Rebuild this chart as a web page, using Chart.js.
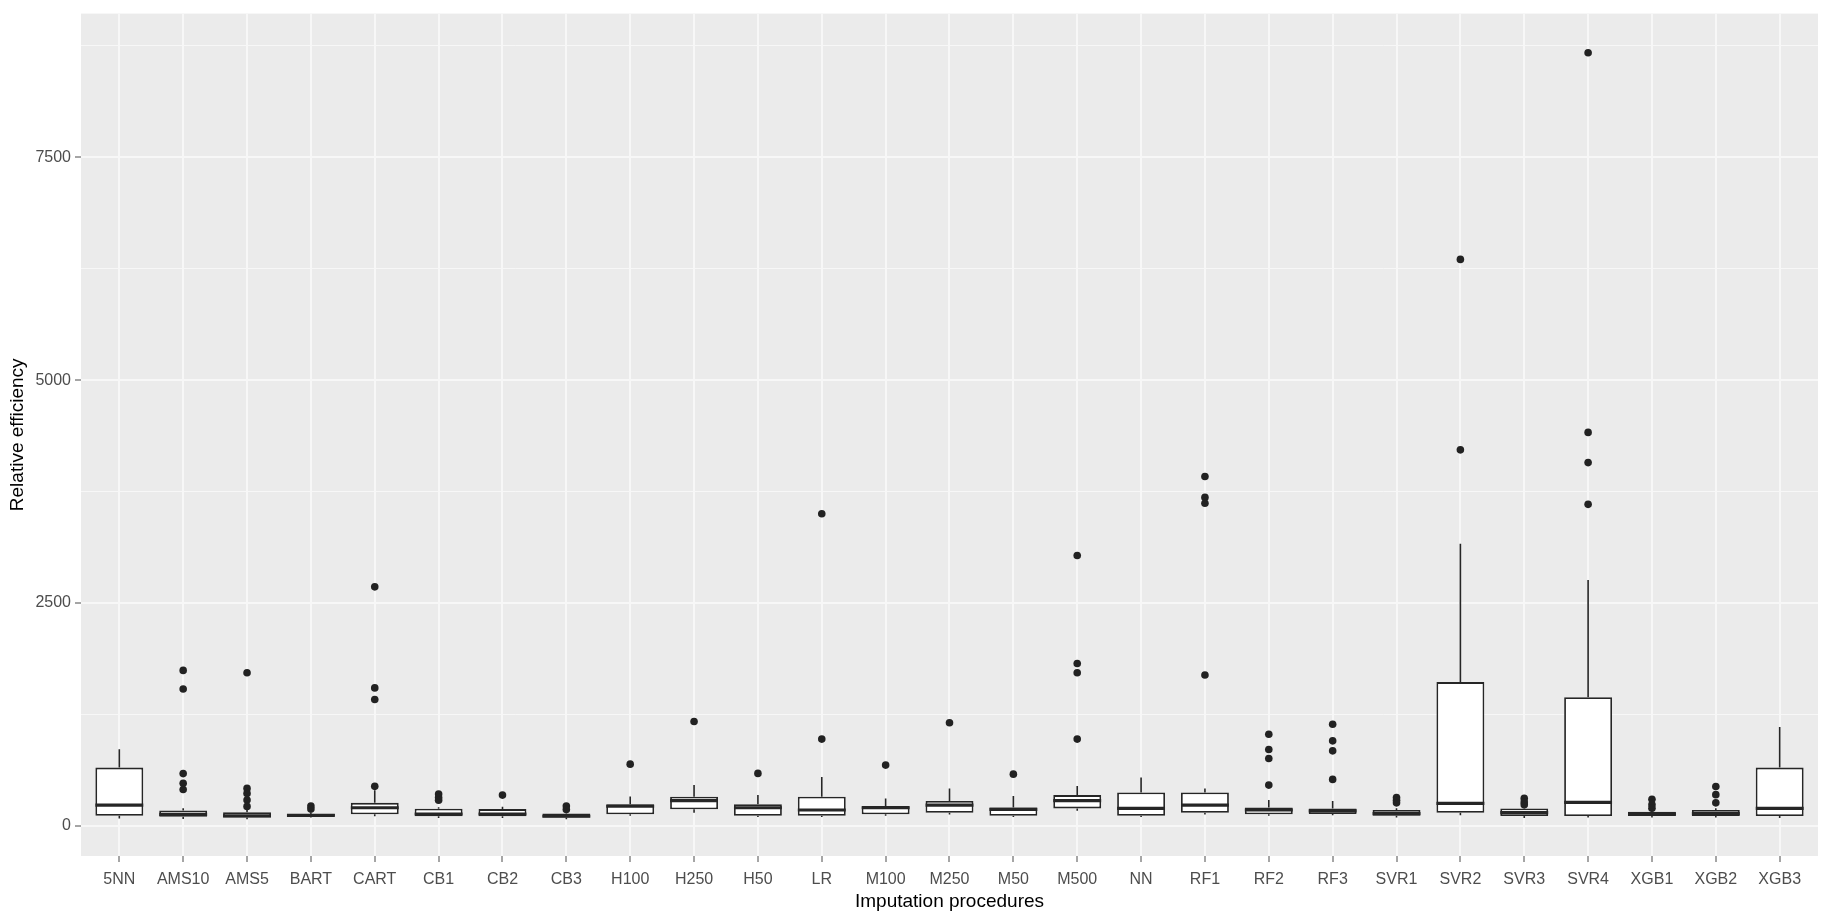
<!DOCTYPE html>
<html>
<head>
<meta charset="utf-8">
<script src="https://cdn.jsdelivr.net/npm/chart.js@4.4.1/dist/chart.umd.min.js"></script>
<style>
  html, body { margin: 0; padding: 0; background: #fff; }
  canvas { display: block; }
</style>
</head>
<body>
<canvas id="chartBox" width="1824" height="921"></canvas>
<script>
// categorias del eje x
const categories = ['5NN', 'AMS10', 'AMS5', 'BART', 'CART', 'CB1', 'CB2', 'CB3', 'H100', 'H250', 'H50', 'LR',
    'M100', 'M250', 'M50', 'M500', 'NN', 'RF1', 'RF2', 'RF3', 'SVR1', 'SVR2', 'SVR3', 'SVR4', 'XGB1', 'XGB2', 'XGB3'];

// estadisticos de cada caja
const whiskerLow  = [85, 80, 75, 95, 110, 90, 90, 75, 115, 150, 100, 100, 115, 130, 100, 170, 100, 130, 115, 120, 95, 120, 90, 95, 95, 95, 90];
const q1          = [115, 105, 97, 110, 131, 110, 110, 97, 131, 187, 115, 115, 131, 149, 115, 198, 115, 149, 131, 134, 115, 149, 112, 112, 112, 112, 112];
const median      = [235, 130, 115, 120, 205, 135, 135, 110, 222, 284, 205, 180, 205, 235, 187, 284, 198, 235, 180, 171, 140, 254, 150, 265, 135, 140, 198];
const q3          = [655, 175, 155, 135, 260, 195, 190, 140, 243, 328, 243, 328, 224, 280, 209, 347, 377, 377, 209, 198, 179, 1614, 198, 1445, 160, 179, 655];
const whiskerHigh = [860, 200, 180, 150, 400, 210, 215, 150, 330, 460, 347, 550, 310, 420, 336, 448, 545, 422, 291, 280, 200, 3164, 215, 2760, 175, 200, 1110];

// valores atipicos por categoria
const outliers = [
    [], [1745, 1536, 588, 480, 410], [1719, 422, 366, 291, 220], [224, 190], [2682, 1549, 1419, 445],
    [360, 320, 290], [347], [224, 185], [694], [1172], [590], [3502, 975], [683], [1159], [582],
    [3034, 1823, 1719, 975], [], [3919, 3685, 3620, 1693], [1030, 859, 758, 459], [1142, 955, 843, 523],
    [320, 290, 260], [6354, 4218], [310, 270, 240], [8671, 4414, 4075, 3607], [300, 240, 200], [443, 352, 260], []
];

// marcas del eje y
const yTicks = [0, 2500, 5000, 7500];
const yMinorTicks = [1250, 3750, 6250, 8750];

const axisFont = { family: '"Liberation Sans", Arial, sans-serif', size: 16 };
const titleFont = { family: '"Liberation Sans", Arial, sans-serif', size: 19 };

// fondo gris del panel, bigotes y medianas
const boxExtras = {
    id: 'boxExtras',
    beforeDraw(chart) {
        const { ctx, chartArea: a } = chart;
        ctx.save();
        ctx.fillStyle = '#EBEBEB';
        ctx.fillRect(a.left, a.top, a.right - a.left, a.bottom - a.top);
        ctx.restore();
    },
    afterDatasetDraw(chart, args) {
        if (args.index !== 0) return;
        const { ctx } = chart;
        const y = chart.scales.y;
        const meta = chart.getDatasetMeta(0);
        ctx.save();
        ctx.strokeStyle = '#262626';
        meta.data.forEach((bar, i) => {
            const cx = bar.x;
            const half = bar.width / 2;
            // bigotes
            ctx.lineWidth = 1.6;
            ctx.beginPath();
            ctx.moveTo(cx, y.getPixelForValue(q3[i]));
            ctx.lineTo(cx, y.getPixelForValue(whiskerHigh[i]));
            ctx.moveTo(cx, y.getPixelForValue(q1[i]));
            ctx.lineTo(cx, y.getPixelForValue(whiskerLow[i]));
            ctx.stroke();
            // mediana
            ctx.lineWidth = 3.2;
            ctx.beginPath();
            const my = y.getPixelForValue(median[i]);
            ctx.moveTo(cx - half, my);
            ctx.lineTo(cx + half, my);
            ctx.stroke();
        });
        ctx.restore();
    }
};

const outlierPoints = [];
outliers.forEach((list, i) => list.forEach(v => outlierPoints.push({ x: i, y: v })));

new Chart(document.getElementById('chartBox'), {
    type: 'bar',
    data: {
        datasets: [
            {
                label: 'box',
                data: categories.map((c, i) => ({ x: i, y: [q1[i], q3[i]] })),
                backgroundColor: '#ffffff',
                borderColor: '#262626',
                borderWidth: 1.8,
                borderSkipped: false,
                grouped: false,
                barPercentage: 0.75,
                categoryPercentage: 1
            },
            {
                type: 'scatter',
                label: 'outliers',
                data: outlierPoints,
                backgroundColor: '#222222',
                borderWidth: 0,
                pointRadius: 3.8
            }
        ]
    },
    options: {
        responsive: false,
        animation: false,
        events: [],
        layout: { padding: { left: 4, top: 12, right: 6, bottom: 4 } },
        plugins: { legend: { display: false }, tooltip: { enabled: false } },
        scales: {
            x: {
                type: 'linear',
                min: -0.6,
                max: 26.6,
                offset: false,
                afterBuildTicks: s => { s.ticks = categories.map((c, i) => ({ value: i })); },
                afterFit: s => { s.height = 61; },
                border: { display: false },
                grid: { offset: false, color: '#f7f7f7', lineWidth: 2, tickColor: '#4d4d4d', tickWidth: 1, tickLength: 6 },
                ticks: {
                    autoSkip: false, maxRotation: 0, padding: 8,
                    color: '#4d4d4d', font: axisFont,
                    callback: v => categories[v]
                },
                title: { display: true, text: 'Imputation procedures', color: '#000', font: titleFont, padding: { top: 0, bottom: 4 } }
            },
            y: {
                min: -336,
                max: 9110,
                afterBuildTicks: s => { s.ticks = yTicks.concat(yMinorTicks).sort((a, b) => a - b).map(v => ({ value: v })); },
                afterFit: s => { s.width = 77; },
                border: { display: false },
                grid: {
                    color: '#f7f7f7',
                    lineWidth: c => (yTicks.includes(c.tick.value) ? 2 : 1),
                    tickColor: c => (yTicks.includes(c.tick.value) ? '#4d4d4d' : 'rgba(0,0,0,0)'),
                    tickWidth: 1,
                    tickLength: 6
                },
                ticks: {
                    padding: 4, color: '#4d4d4d', font: axisFont,
                    callback: v => (yTicks.includes(v) ? String(v) : '')
                },
                title: { display: true, text: 'Relative efficiency', color: '#000', font: titleFont, padding: { top: 2, bottom: 0 } }
            }
        }
    },
    plugins: [boxExtras]
});
</script>
</body>
</html>
